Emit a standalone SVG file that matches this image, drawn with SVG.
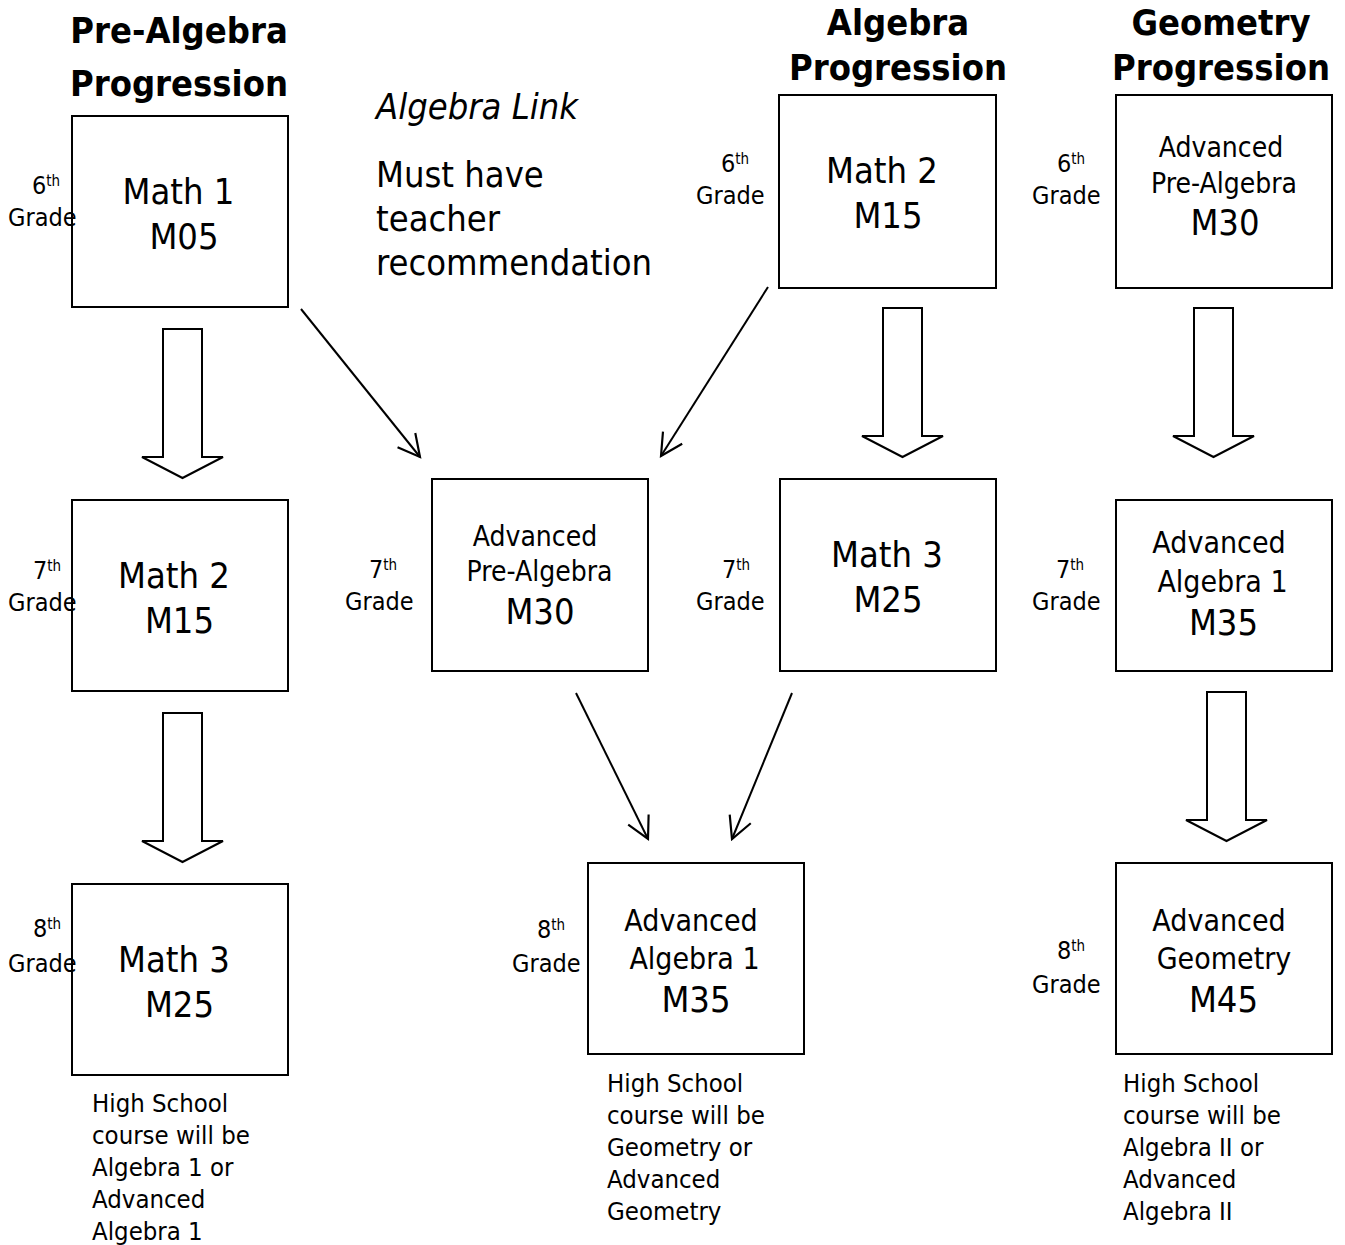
<svg xmlns="http://www.w3.org/2000/svg" width="1345" height="1245" viewBox="0 0 1345 1245">
<style>
.box{fill:#fff;stroke:#000;stroke-width:2}
.ha{fill:#fff;stroke:#000;stroke-width:2;stroke-linejoin:miter}
.ln{fill:none;stroke:#000;stroke-width:2}
text{font-family:"DejaVu Sans Condensed","DejaVu Sans",sans-serif;font-stretch:condensed;fill:#000}
.h{font-weight:bold;font-size:36px;text-anchor:middle}
.big{font-size:36px;text-anchor:middle}
.mid{font-size:30px;text-anchor:middle}
.m28{font-size:28px;text-anchor:middle}
.g{font-size:25px}
.sup{font-size:15px}
.note{font-size:25.5px}
.body{font-size:36px}
.it{font-size:36px;font-style:italic}
</style>
<defs>
<marker id="v" markerUnits="userSpaceOnUse" markerWidth="26" markerHeight="26" viewBox="0 0 24 24" refX="22" refY="12" orient="auto">
<path d="M2,1.5 L22,12 L2,22.5" fill="none" stroke="#000" stroke-width="2"/>
</marker>
</defs>

<g id="headings">
<text class="h" x="179" y="43">Pre-Algebra</text>
<text class="h" x="179" y="96">Progression</text>
<text class="h" x="898" y="35">Algebra</text>
<text class="h" x="898" y="80">Progression</text>
<text class="h" x="1221" y="35">Geometry</text>
<text class="h" x="1221" y="80">Progression</text>
</g>

<g id="algebra-link-note">
<text class="it" x="376" y="119">Algebra Link</text>
<text class="body" x="376" y="187">Must have</text>
<text class="body" x="376" y="231">teacher</text>
<text class="body" x="376" y="275">recommendation</text>
</g>

<g id="connectors">
<polygon class="ha" points="163,329 202,329 202,457 223,457 182.5,478 142,457 163,457"/>
<polygon class="ha" points="163,713 202,713 202,841 223,841 182.5,862 142,841 163,841"/>
<polygon class="ha" points="883,308 922,308 922,436 943,436 902.5,457 862,436 883,436"/>
<polygon class="ha" points="1194,308 1233,308 1233,436 1254,436 1213.5,457 1173,436 1194,436"/>
<polygon class="ha" points="1207,692 1246,692 1246,820 1267,820 1226.5,841 1186,820 1207,820"/>
<line class="ln" x1="301" y1="309" x2="420" y2="457" marker-end="url(#v)"/>
<line class="ln" x1="768" y1="287" x2="661" y2="456" marker-end="url(#v)"/>
<line class="ln" x1="576" y1="693" x2="648" y2="839" marker-end="url(#v)"/>
<line class="ln" x1="792" y1="693" x2="732" y2="839" marker-end="url(#v)"/>
</g>

<g id="math1">
<rect class="box" x="72" y="116" width="216" height="191"/>
<text class="big" x="178.5" y="204">Math 1</text>
<text class="big" x="184" y="249">M05</text>
<text class="g" x="32" y="194">6<tspan class="sup" dy="-8">th</tspan></text>
<text class="g" x="8" y="226">Grade</text>
</g>

<g id="math2-alg">
<rect class="box" x="779" y="95" width="217" height="193"/>
<text class="big" x="882" y="183">Math 2</text>
<text class="big" x="888" y="228">M15</text>
<text class="g" x="721" y="172">6<tspan class="sup" dy="-8">th</tspan></text>
<text class="g" x="696" y="204">Grade</text>
</g>

<g id="advprealg-geo">
<rect class="box" x="1116" y="95" width="216" height="193"/>
<text class="m28" x="1221" y="157">Advanced</text>
<text class="m28" x="1224" y="193">Pre-Algebra</text>
<text class="big" x="1225" y="235">M30</text>
<text class="g" x="1057" y="172">6<tspan class="sup" dy="-8">th</tspan></text>
<text class="g" x="1032" y="204">Grade</text>
</g>

<g id="math2-pre">
<rect class="box" x="72" y="500" width="216" height="191"/>
<text class="big" x="174" y="588">Math 2</text>
<text class="big" x="179.5" y="633">M15</text>
<text class="g" x="33" y="579">7<tspan class="sup" dy="-8">th</tspan></text>
<text class="g" x="8" y="611">Grade</text>
</g>

<g id="advprealg-mid">
<rect class="box" x="432" y="479" width="216" height="192"/>
<text class="m28" x="535" y="546">Advanced</text>
<text class="m28" x="539.5" y="581">Pre-Algebra</text>
<text class="big" x="540" y="624">M30</text>
<text class="g" x="369" y="578">7<tspan class="sup" dy="-8">th</tspan></text>
<text class="g" x="345" y="610">Grade</text>
</g>

<g id="math3-alg">
<rect class="box" x="780" y="479" width="216" height="192"/>
<text class="big" x="887" y="567">Math 3</text>
<text class="big" x="888" y="612">M25</text>
<text class="g" x="722" y="578">7<tspan class="sup" dy="-8">th</tspan></text>
<text class="g" x="696" y="610">Grade</text>
</g>

<g id="advalg1-geo">
<rect class="box" x="1116" y="500" width="216" height="171"/>
<text class="mid" x="1219" y="553">Advanced</text>
<text class="mid" x="1222.5" y="592">Algebra 1</text>
<text class="big" x="1223.5" y="635">M35</text>
<text class="g" x="1056" y="578">7<tspan class="sup" dy="-8">th</tspan></text>
<text class="g" x="1032" y="610">Grade</text>
</g>

<g id="math3-pre">
<rect class="box" x="72" y="884" width="216" height="191"/>
<text class="big" x="174" y="972">Math 3</text>
<text class="big" x="179.5" y="1017">M25</text>
<text class="g" x="33" y="937">8<tspan class="sup" dy="-8">th</tspan></text>
<text class="g" x="8" y="972">Grade</text>
<text class="note" x="92" y="1112">High School</text>
<text class="note" x="92" y="1144">course will be</text>
<text class="note" x="92" y="1176">Algebra 1 or</text>
<text class="note" x="92" y="1208">Advanced</text>
<text class="note" x="92" y="1240">Algebra 1</text>
</g>

<g id="advalg1-mid">
<rect class="box" x="588" y="863" width="216" height="191"/>
<text class="mid" x="691" y="931">Advanced</text>
<text class="mid" x="694.5" y="969">Algebra 1</text>
<text class="big" x="696" y="1012">M35</text>
<text class="g" x="537" y="938">8<tspan class="sup" dy="-8">th</tspan></text>
<text class="g" x="512" y="972">Grade</text>
<text class="note" x="607" y="1092">High School</text>
<text class="note" x="607" y="1124">course will be</text>
<text class="note" x="607" y="1156">Geometry or</text>
<text class="note" x="607" y="1188">Advanced</text>
<text class="note" x="607" y="1220">Geometry</text>
</g>

<g id="advgeo">
<rect class="box" x="1116" y="863" width="216" height="191"/>
<text class="mid" x="1219" y="931">Advanced</text>
<text class="mid" x="1224" y="969">Geometry</text>
<text class="big" x="1223.5" y="1012">M45</text>
<text class="g" x="1057" y="959">8<tspan class="sup" dy="-8">th</tspan></text>
<text class="g" x="1032" y="993">Grade</text>
<text class="note" x="1123" y="1092">High School</text>
<text class="note" x="1123" y="1124">course will be</text>
<text class="note" x="1123" y="1156">Algebra II or</text>
<text class="note" x="1123" y="1188">Advanced</text>
<text class="note" x="1123" y="1220">Algebra II</text>
</g>
</svg>
